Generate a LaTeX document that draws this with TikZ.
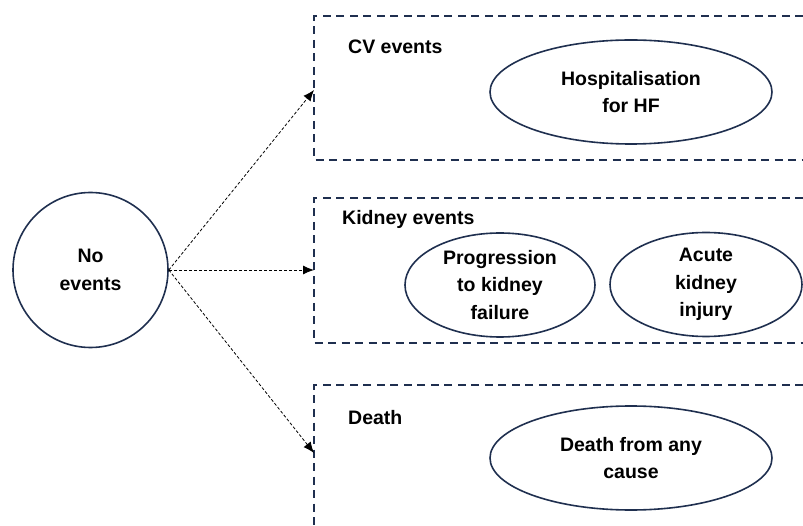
\documentclass[tikz,border=0pt]{standalone}
\usepackage{fontspec}
\setmainfont{Liberation Sans}
\usetikzlibrary{shapes.geometric,arrows.meta}
\definecolor{navy}{HTML}{1F2F4F}

\tikzset{
    evnode/.style={draw=navy,line width=1.6pt,align=center,inner sep=0pt,
        font=\fontsize{19.5}{27.5}\selectfont\bfseries},
    evell/.style={evnode,ellipse,minimum height=104pt},
    boxline/.style={draw=navy,line width=1.8pt,dash pattern=on 8pt off 5.5pt},
    flow/.style={black,line width=0.8pt,dash pattern=on 3pt off 2pt,
        -{Latex[length=11pt,width=9pt]}},
    grp/.style={anchor=base west,inner sep=0pt,font=\fontsize{19.5}{23}\selectfont\bfseries}
}

\begin{document}
\begin{tikzpicture}[x=1pt,y=-1pt]
            \useasboundingbox (0,0) rectangle (803,526);

            % the three groups, open to the right
            \draw [boxline] (803,16) -- (314,16) -- (314,160) -- (803,160);
            \draw [boxline] (803,198) -- (314,198) -- (314,343) -- (803,343);
            \draw [boxline] (803,385) -- (314,385) -- (314,526);

            \node [grp] (cvlab) at (348,54) {CV events};
            \node [grp] (kidlab) at (342,225) {Kidney events};
            \node [grp] (deathlab) at (348,424) {Death};

            \node [evnode,circle,minimum size=155pt] (noev) at (90.5,270) {No\\events};

            \node [evell,minimum width=282pt] (hosp) at (631,92) {Hospitalisation\\for HF};
            \node [evell,minimum width=190pt] (prog) at (500,285) {Progression\\to kidney\\failure};
            \node [evell,minimum width=192pt] (aki) at (706,284.5) {Acute\\kidney\\injury};
            \node [evell,minimum width=282pt] (death) at (631,458) {Death from any\\cause};

            \coordinate (cvin) at (314,90);
            \coordinate (kidin) at (314,270);
            \coordinate (deathin) at (314,453);
            \foreach \t in {cvin,kidin,deathin} {
                \draw [flow] (noev.east) -- (\t);
            }
\end{tikzpicture}
\end{document}
